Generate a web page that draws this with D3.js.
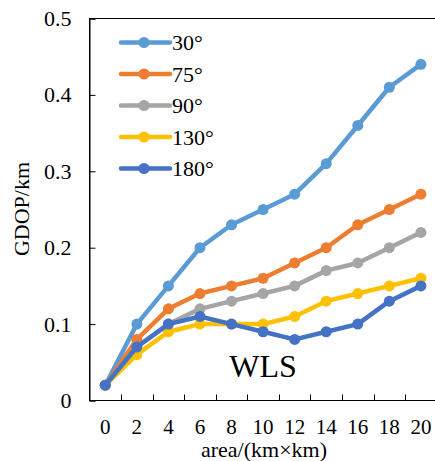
<!DOCTYPE html>
<meta charset="utf-8">
<script src="https://d3js.org/d3.v7.min.js"></script>
<style>
  body { margin: 0; background: #fff; }
  svg text { font-family: "Liberation Serif", "Times New Roman", serif; fill: #000; }
</style>
<div id="chart"></div>
<script>

// data
var areas = ["0", "2", "4", "6", "8", "10", "12", "14", "16", "18", "20"];
var seriesNames = ["30°", "75°", "90°", "130°", "180°"];
var seriesColors = ["#5B9BD5", "#ED7D31", "#A5A5A5", "#FFC000", "#4472C4"];
var v30  = [0.02, 0.10, 0.15, 0.20, 0.23, 0.25, 0.27, 0.31, 0.36, 0.41, 0.44];
var v75  = [0.02, 0.08, 0.12, 0.14, 0.15, 0.16, 0.18, 0.20, 0.23, 0.25, 0.27];
var v90  = [0.02, 0.07, 0.10, 0.12, 0.13, 0.14, 0.15, 0.17, 0.18, 0.20, 0.22];
var v130 = [0.02, 0.06, 0.09, 0.10, 0.10, 0.10, 0.11, 0.13, 0.14, 0.15, 0.16];
var v180 = [0.02, 0.07, 0.10, 0.11, 0.10, 0.09, 0.08, 0.09, 0.10, 0.13, 0.15];
var yTicks = [0, 0.1, 0.2, 0.3, 0.4, 0.5];

var series = [v30, v75, v90, v130, v180].map(function(vals, i) {
  return {name: seriesNames[i], color: seriesColors[i], values: vals};
});

var W = 435, H = 461;
var pLeft = 89.5, pTop = 18.5, pBottom = 400.5, pRight = 436.7;

var svg = d3.select("#chart").append("svg")
  .attr("width", W).attr("height", H);

var x = d3.scaleBand().domain(areas).range([pLeft, pRight]).padding(0);
var y = d3.scaleLinear().domain([0, 0.5]).range([pBottom, pTop]);

// frame
svg.append("rect")
  .attr("x", pLeft).attr("y", pTop)
  .attr("width", pRight - pLeft).attr("height", pBottom - pTop)
  .attr("fill", "none").attr("stroke", "#000").attr("stroke-width", 1);

// y axis (ticks inside)
var yAxis = svg.append("g")
  .attr("transform", "translate(" + pLeft + ",0)")
  .call(d3.axisRight(y).tickValues(yTicks).tickSize(6).tickFormat(function(d) { return d === 0 ? "0" : d3.format(".1f")(d); }));
yAxis.select(".domain").attr("stroke", "#000");
yAxis.selectAll("line").attr("stroke", "#000");
yAxis.selectAll("text")
  .attr("x", -18).attr("text-anchor", "end")
  .attr("fill", "#000")
  .style("font-family", "'Liberation Serif', serif")
  .style("font-size", "22px");

// x axis (ticks inside at band boundaries)
var xAxis = svg.append("g")
  .attr("transform", "translate(0," + pBottom + ")");
xAxis.append("line")
  .attr("x1", pLeft).attr("x2", pRight).attr("stroke", "#000");
xAxis.selectAll(".tk")
  .data(areas.slice(1))
  .enter().append("line")
  .attr("x1", function(d) { return Math.round(x(d)) + 0.5; })
  .attr("x2", function(d) { return Math.round(x(d)) + 0.5; })
  .attr("y1", 0).attr("y2", -6)
  .attr("stroke", "#000");
xAxis.selectAll(".lab")
  .data(areas)
  .enter().append("text")
  .attr("x", function(d) { return x(d) + x.bandwidth() / 2; })
  .attr("y", 33)
  .attr("text-anchor", "middle")
  .style("font-size", "21px")
  .text(function(d) { return d; });

// axis titles
svg.append("text")
  .attr("x", 264).attr("y", 457)
  .attr("text-anchor", "middle")
  .style("font-size", "22px")
  .text("area/(km×km)");
svg.append("text")
  .attr("transform", "translate(29,209) rotate(-90)")
  .attr("text-anchor", "middle")
  .style("font-size", "22px")
  .text("GDOP/km");

// lines
var line = d3.line()
  .x(function(d, i) { return x(areas[i]) + x.bandwidth() / 2; })
  .y(function(d) { return y(d); });

var g = svg.selectAll(".series")
  .data(series)
  .enter().append("g");
g.append("path")
  .attr("d", function(d) { return line(d.values); })
  .attr("fill", "none")
  .attr("stroke", function(d) { return d.color; })
  .attr("stroke-width", 4.5)
  .attr("stroke-linejoin", "round");
g.selectAll("circle")
  .data(function(d) { return d.values.map(function(v, i) { return {v: v, i: i, color: d.color}; }); })
  .enter().append("circle")
  .attr("cx", function(d) { return x(areas[d.i]) + x.bandwidth() / 2; })
  .attr("cy", function(d) { return y(d.v); })
  .attr("r", 5.5)
  .attr("fill", function(d) { return d.color; });

// legend
var leg = svg.selectAll(".leg")
  .data(series)
  .enter().append("g")
  .attr("transform", function(d, i) { return "translate(121," + (42.5 + i * 31.5) + ")"; });
leg.append("line")
  .attr("x1", 0).attr("x2", 49)
  .attr("stroke", function(d) { return d.color; })
  .attr("stroke-width", 4.5)
  .attr("stroke-linecap", "round");
leg.append("circle")
  .attr("cx", 23).attr("r", 5.5)
  .attr("fill", function(d) { return d.color; });
leg.append("text")
  .attr("x", 51).attr("y", 7.5)
  .style("font-size", "22px")
  .text(function(d) { return d.name; });

// label
svg.append("text")
  .attr("x", 263).attr("y", 377)
  .attr("text-anchor", "middle")
  .style("font-size", "32px")
  .text("WLS");

</script>
